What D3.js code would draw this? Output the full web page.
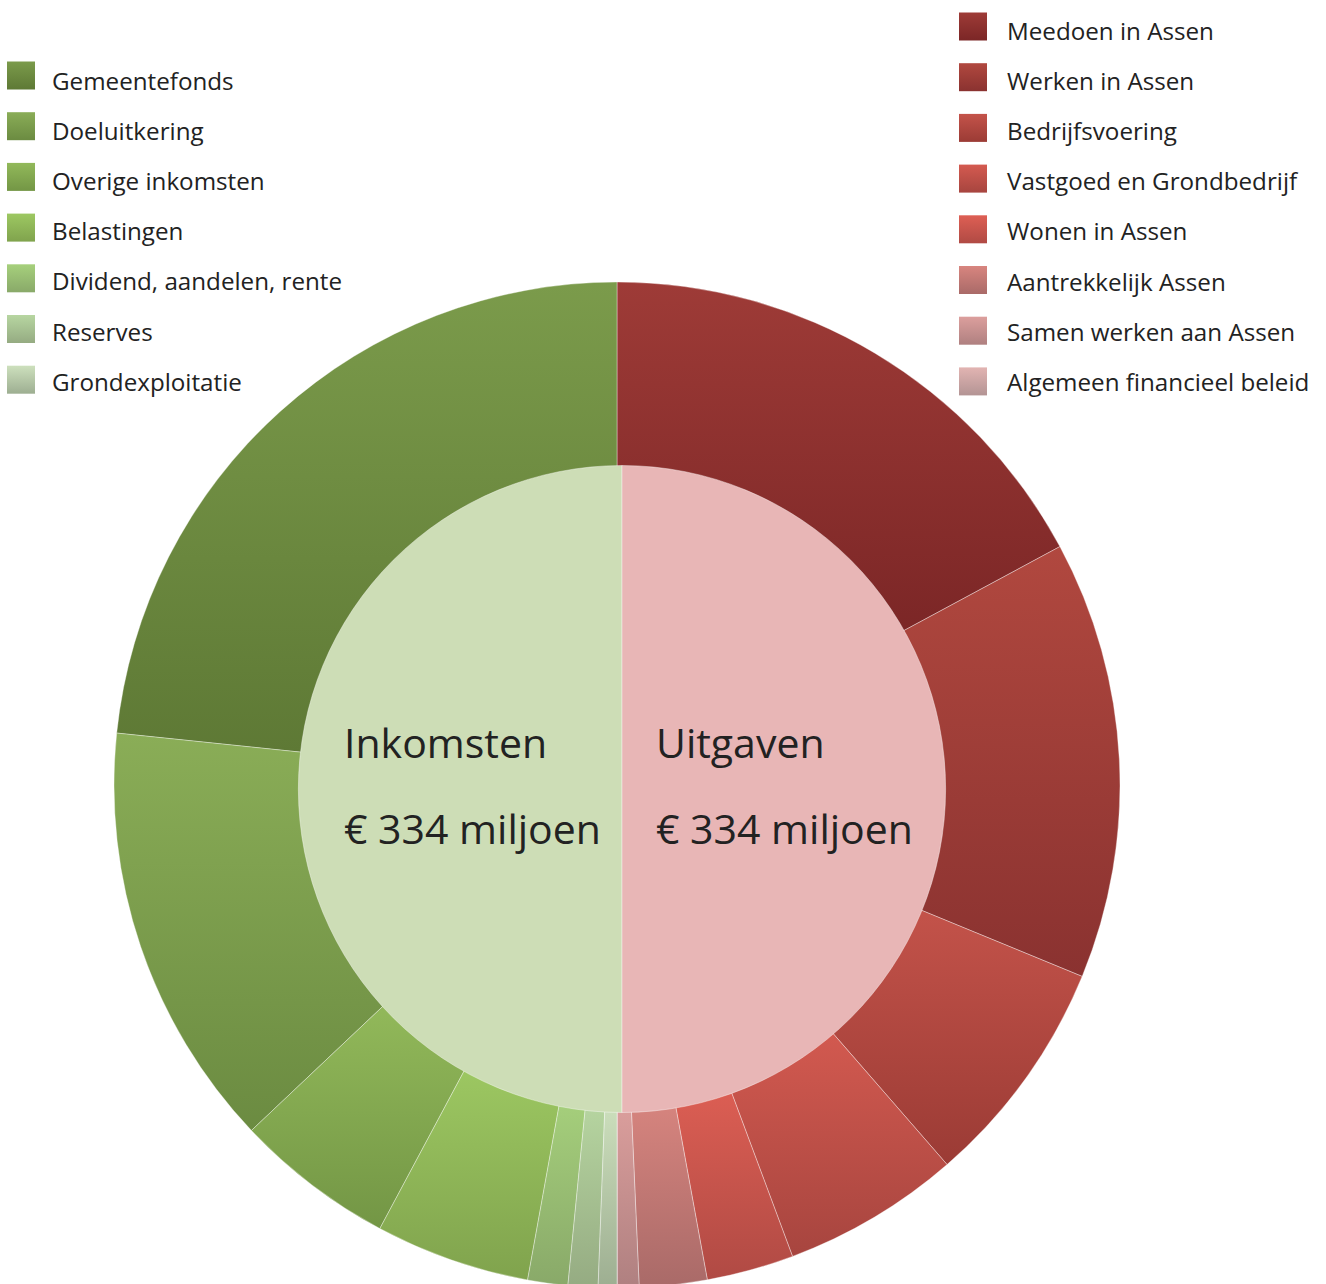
<!DOCTYPE html>
<html>
<head>
<meta charset="utf-8">
<script src="https://cdn.jsdelivr.net/npm/d3@7"></script>
<style>
  body { margin: 0; background: #fff; }
  svg { display: block; font-family: "Open Sans", sans-serif; }
</style>
</head>
<body>
<svg id="chart" width="1326" height="1284"></svg>
<script>
// inkomsten (linkerhelft), miljoen euro
const incomeNames = ["Gemeentefonds", "Doeluitkering", "Overige inkomsten", "Belastingen",
                     "Dividend, aandelen, rente", "Reserves", "Grondexploitatie"]
const incomeValues = [156.0, 91.5, 34.3, 33.2, 8.6, 6.4, 4.0]
const incomeTop = ["#7b9b4b", "#8aad57", "#92b95a", "#9dc862", "#a6d07c", "#b7d6a1", "#cde0bd"]
const incomeBottom = ["#5e7935", "#6b8b41", "#739645", "#80a34d", "#89a969", "#95ab82", "#9dae91"]

// uitgaven (rechterhelft), miljoen euro
const expenseNames = ["Meedoen in Assen", "Werken in Assen", "Bedrijfsvoering", "Vastgoed en Grondbedrijf",
                      "Wonen in Assen", "Aantrekkelijk Assen", "Samen werken aan Assen", "Algemeen financieel beleid"]
const expenseValues = [114.5, 94.0, 49.4, 38.2, 18.7, 14.5, 4.7, 0]
const expenseTop = ["#9e3b37", "#b1483f", "#c4534a", "#d45a50", "#de5f54", "#d8857f", "#dc9f9d", "#e2b4b2"]
const expenseBottom = ["#7b2626", "#8a3230", "#9b3b35", "#a7453f", "#b04a44", "#a96a68", "#af8080", "#b39494"]

const totalLabels = ["Inkomsten", "Uitgaven"]
const totalAmounts = ["€ 334 miljoen", "€ 334 miljoen"]
const innerColors = ["#cdddb6", "#e8b6b6"]

const svg = d3.select("#chart")
const defs = svg.append("defs")

function gradient(id, top, bottom) {
    let g = defs.append("linearGradient")
        .attr("id", id)
        .attr("x1", 0).attr("y1", 0)
        .attr("x2", 0).attr("y2", 1)
    g.append("stop").attr("offset", "0%").attr("stop-color", top)
    g.append("stop").attr("offset", "100%").attr("stop-color", bottom)
}

incomeNames.forEach((d, i) => gradient("inc" + i, incomeTop[i], incomeBottom[i]))
expenseNames.forEach((d, i) => gradient("exp" + i, expenseTop[i], expenseBottom[i]))

// buitenring (ring, zodat de kleurverloop per segment klopt)
const cx = 617, cy = 785, rOuter = 503
const arcOuter = d3.arc().innerRadius(316).outerRadius(rOuter)

const pieRight = d3.pie().sort(null).startAngle(0).endAngle(Math.PI)
const pieLeft = d3.pie().sort(null).startAngle(2 * Math.PI).endAngle(Math.PI)

let ring = svg.append("g").attr("transform", `translate(${cx}, ${cy})`)

ring.selectAll(".exp")
    .data(pieRight(expenseValues))
    .enter()
    .append("path")
    .attr("class", "exp")
    .attr("d", arcOuter)
    .style("fill", (d, i) => `url(#exp${i})`)
    .style("stroke", "#fff")
    .style("stroke-opacity", 0.45)
    .style("stroke-width", 0.8)

ring.selectAll(".inc")
    .data(pieLeft(incomeValues))
    .enter()
    .append("path")
    .attr("class", "inc")
    .attr("d", arcOuter)
    .style("fill", (d, i) => `url(#inc${i})`)
    .style("stroke", "#fff")
    .style("stroke-opacity", 0.45)
    .style("stroke-width", 0.8)

// binnenste taart: inkomsten vs uitgaven
const icx = 622, icy = 789, rInner = 323.5
const arcInner = d3.arc().innerRadius(0).outerRadius(rInner)
const pieInner = d3.pie().sort(null).startAngle(Math.PI).endAngle(3 * Math.PI)

let inner = svg.append("g").attr("transform", `translate(${icx}, ${icy})`)

inner.selectAll(".half")
    .data(pieInner([334, 334]))
    .enter()
    .append("path")
    .attr("class", "half")
    .attr("d", arcInner)
    .style("fill", (d, i) => innerColors[i])
    .style("stroke", "#fff")
    .style("stroke-opacity", 0.5)
    .style("stroke-width", 0.8)

const labelX = [344, 656]
totalLabels.forEach((t, i) => {
    svg.append("text")
        .attr("x", labelX[i]).attr("y", 758)
        .style("font-size", "41px")
        .style("fill", "#222")
        .text(t)
    svg.append("text")
        .attr("x", labelX[i]).attr("y", 844)
        .style("font-size", "41px")
        .style("fill", "#222")
        .text(totalAmounts[i])
})

// legenda
function legend(names, prefix, x, y0, textDx, textY0) {
    let g = svg.append("g")
    names.forEach((name, i) => {
        g.append("rect")
            .attr("x", x).attr("y", y0 + i * 50.7)
            .attr("width", 28).attr("height", 28)
            .style("fill", `url(#${prefix}${i})`)
        g.append("text")
            .attr("x", x + textDx).attr("y", textY0 + i * 50.1)
            .style("font-size", "24.2px")
            .style("fill", "#222")
            .text(name)
    })
}

legend(incomeNames, "inc", 7, 61.5, 45, 90)
legend(expenseNames, "exp", 959, 12.5, 48, 40)
</script>
</body>
</html>
